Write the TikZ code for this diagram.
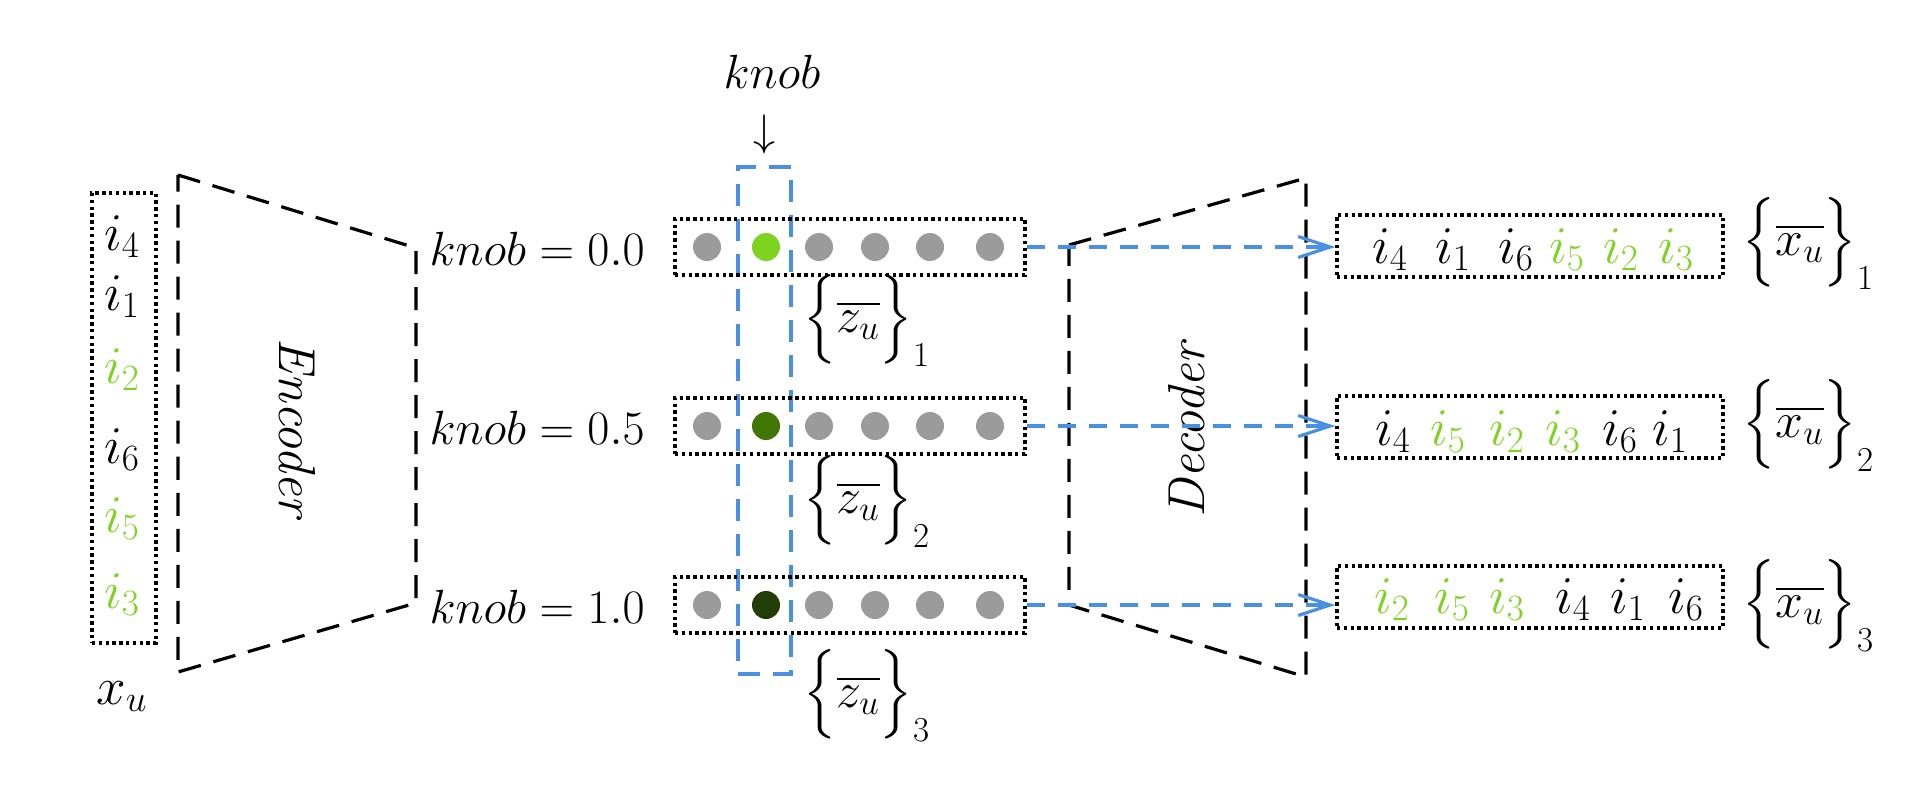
\RequirePackage{fix-cm}
\documentclass[tikz,border=0pt]{standalone}
\usepackage{amsmath}
\usetikzlibrary{arrows.meta}
\definecolor{lgreen}{HTML}{7ED321}
\definecolor{mgreen}{HTML}{417505}
\definecolor{dgreen}{HTML}{223D07}
\definecolor{kblue}{HTML}{4A90E2}
\definecolor{dotgray}{HTML}{9B9B9B}
\begin{document}
\begin{tikzpicture}[x=0.5pt,y=-0.5pt,
  every node/.style={font=\fontsize{25}{30}\selectfont, inner sep=0pt},
  big/.style={font=\fontsize{26.5}{32}\selectfont},
  lbl/.style={font=\fontsize{24}{29}\selectfont},
  dotbox/.style={draw, line width=1.7pt, dash pattern=on 1.7pt off 1.7pt},
  trap/.style={draw, line width=1.6pt, dash pattern=on 11.5pt off 6.5pt},
  kdash/.style={draw=kblue, line width=1.6pt, dash pattern=on 11pt off 6.5pt},
  karrow/.style={draw=kblue, line width=1.6pt, dash pattern=on 9pt off 6.5pt,
    -{Straight Barb[length=16pt,width=10.5pt,line width=1.6pt]}},
  lat/.style={circle, minimum size=14pt, inner sep=0pt},
  itm/.style={anchor=base, big}
]
\useasboundingbox (0,0) rectangle (1919,793);

% input column
\node[dotbox, minimum width=32pt, minimum height=225pt] (inbox) at (124,418) {};
\foreach \n/\t/\y/\c in {a/i_4/250/black, b/i_1/310/black, c/i_2/383/lgreen,
                         d/i_6/463/black, e/i_5/532/lgreen, f/i_3/608/lgreen}
  \node[itm, text=\c] (in-\n) at (122,\y) {$\t$};
\node[itm] (xu) at (122,704) {$x_u$};

% encoder
\coordinate (e1) at (178,175);
\coordinate (e2) at (416,248);
\coordinate (e3) at (416,603);
\coordinate (e4) at (178,672);
\draw[trap] (e1) -- (e2) -- (e3) -- (e4) -- cycle;
\node[rotate=-90, font=\fontsize{26}{31}\selectfont\itshape] (enc) at (297,428) {Encoder};

% knob selector
\node[anchor=base, lbl] (ktop) at (772,88) {$knob$};
\node[font=\fontsize{22}{26}\selectfont] (karr) at (764,134) {$\downarrow$};
\node[kdash, minimum width=26.5pt, minimum height=253.5pt] (kbox) at (764.5,420.5) {};

% latent rows
\node[dotbox, minimum width=175pt, minimum height=28pt] (r1) at (850,247) {};
\node[dotbox, minimum width=175pt, minimum height=28pt] (r2) at (850,426) {};
\node[dotbox, minimum width=175pt, minimum height=28pt] (r3) at (850,605) {};
\foreach \r/\y/\c in {1/247/lgreen, 2/426/mgreen, 3/605/dgreen}{
  \foreach \k/\x in {1/707,3/819,4/875,5/930,6/990}
    \node[lat, fill=dotgray] (c\r-\k) at (\x,\y) {};
  \node[lat, fill=\c] (c\r-2) at (766,\y) {};
}
\node[anchor=base east, lbl] (k1) at (645,265) {$knob = 0.0$};
\node[anchor=base east, lbl] (k2) at (645,444) {$knob = 0.5$};
\node[anchor=base east, lbl] (k3) at (645,623) {$knob = 1.0$};

\node[anchor=base west] (z1) at (803,332) {$\Big\{\overline{z_u}\Big\}_1$};
\node[anchor=base west] (z2) at (803,513) {$\Big\{\overline{z_u}\Big\}_2$};
\node[anchor=base west] (z3) at (803,707) {$\Big\{\overline{z_u}\Big\}_3$};

% decoder
\coordinate (d1) at (1069,245);
\coordinate (d2) at (1306,178);
\coordinate (d3) at (1306,677);
\coordinate (d4) at (1069,605);
\draw[trap] (d1) -- (d2) -- (d3) -- (d4) -- cycle;
\node[rotate=90, font=\fontsize{26}{31}\selectfont\itshape] (dec) at (1187,430) {Decoder};

% outputs
\node[dotbox, minimum width=193pt, minimum height=31pt] (o1) at (1530,246) {};
\node[dotbox, minimum width=193pt, minimum height=31pt] (o2) at (1530,427) {};
\node[dotbox, minimum width=193pt, minimum height=31pt] (o3) at (1530,597) {};

\foreach \n/\t/\x/\c in {a/i_4/1390/black, b/i_1/1453/black, c/i_6/1516/black,
                         d/i_5/1567/lgreen, e/i_2/1621/lgreen, f/i_3/1676/lgreen}
  \node[itm, text=\c] (oa-\n) at (\x,263) {$\t$};
\foreach \n/\t/\x/\c in {a/i_4/1393/black, b/i_5/1448/lgreen, c/i_2/1507/lgreen,
                         d/i_3/1563/lgreen, e/i_6/1620/black, f/i_1/1670/black}
  \node[itm, text=\c] (ob-\n) at (\x,445) {$\t$};
\foreach \n/\t/\x/\c in {a/i_2/1392/lgreen, b/i_5/1452/lgreen, c/i_3/1507/lgreen,
                         d/i_4/1573/black, e/i_1/1628/black, f/i_6/1686/black}
  \node[itm, text=\c] (oc-\n) at (\x,613) {$\t$};

\node[anchor=base west] (x1) at (1742,255) {$\Big\{\overline{x_u}\Big\}_1$};
\node[anchor=base west] (x2) at (1742,437) {$\Big\{\overline{x_u}\Big\}_2$};
\node[anchor=base west] (x3) at (1742,617) {$\Big\{\overline{x_u}\Big\}_3$};

% arrows
\draw[karrow] (r1.east) -- (r1.east -| o1.west);
\draw[karrow] (r2.east) -- (r2.east -| o2.west);
\draw[karrow] (r3.east) -- (r3.east -| o3.west);
\end{tikzpicture}
\end{document}
